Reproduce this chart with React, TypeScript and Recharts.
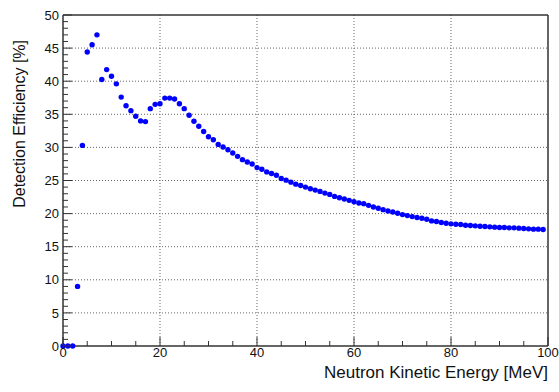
import { ScatterChart, Scatter, XAxis, YAxis, ReferenceLine } from 'recharts';

// neutron kinetic energy [MeV]
const ENERGY = [
  0, 1, 2, 3, 4, 5, 6, 7, 8, 9,
  10, 11, 12, 13, 14, 15, 16, 17, 18, 19,
  20, 21, 22, 23, 24, 25, 26, 27, 28, 29,
  30, 31, 32, 33, 34, 35, 36, 37, 38, 39,
  40, 41, 42, 43, 44, 45, 46, 47, 48, 49,
  50, 51, 52, 53, 54, 55, 56, 57, 58, 59,
  60, 61, 62, 63, 64, 65, 66, 67, 68, 69,
  70, 71, 72, 73, 74, 75, 76, 77, 78, 79,
  80, 81, 82, 83, 84, 85, 86, 87, 88, 89,
  90, 91, 92, 93, 94, 95, 96, 97, 98, 99,
];

// detection efficiency [%]
const EFFICIENCY = [
  0, 0, 0, 9.0, 30.3, 44.4, 45.5, 47.0, 40.25, 41.75,
  40.75, 39.6, 37.6, 36.3, 35.55, 34.7, 34.0, 33.9, 35.85, 36.5,
  36.6, 37.45, 37.45, 37.3, 36.6, 35.85, 34.85, 33.95, 33.2, 32.4,
  31.6, 31.15, 30.45, 30.05, 29.65, 29.15, 28.65, 28.15, 27.8, 27.5,
  26.95, 26.7, 26.3, 26.05, 25.8, 25.3, 25.05, 24.75, 24.45, 24.25,
  24.0, 23.75, 23.55, 23.35, 23.1, 22.9, 22.6, 22.4, 22.2, 22.0,
  21.8, 21.6, 21.5, 21.25, 21.0, 20.8, 20.6, 20.4, 20.25, 20.05,
  19.85, 19.7, 19.55, 19.4, 19.3, 19.15, 18.9, 18.8, 18.65, 18.55,
  18.45, 18.4, 18.35, 18.25, 18.2, 18.15, 18.1, 18.05, 18.0, 17.95,
  17.9, 17.9, 17.85, 17.85, 17.8, 17.75, 17.7, 17.65, 17.65, 17.6,
];

const X_TICKS = [0, 5, 10, 15, 20, 25, 30, 35, 40, 45, 50, 55, 60, 65, 70, 75, 80, 85, 90, 95, 100];
const X_MAJOR = [0, 20, 40, 60, 80, 100];
const Y_TICKS = [
  0, 1, 2, 3, 4, 5, 6, 7, 8, 9, 10, 11, 12, 13, 14, 15, 16, 17, 18, 19, 20, 21, 22, 23, 24, 25,
  26, 27, 28, 29, 30, 31, 32, 33, 34, 35, 36, 37, 38, 39, 40, 41, 42, 43, 44, 45, 46, 47, 48, 49, 50,
];
const Y_MAJOR = [0, 5, 10, 15, 20, 25, 30, 35, 40, 45, 50];

const data = ENERGY.map((x, i) => ({ x, y: EFFICIENCY[i] }));

const FONT = '"Liberation Sans", Arial, Helvetica, sans-serif';
const AXIS = '#333';
const LEFT = 63;
const BOTTOM = 346;

function YTick(props: any) {
  const { y, payload } = props;
  const major = Y_MAJOR.includes(payload.value);
  return (
    <g>
      <line x1={LEFT} x2={LEFT + (major ? 9 : 5)} y1={y} y2={y} stroke={AXIS} strokeWidth={1} />
      {major && (
        <text x={LEFT - 4} y={y} dy="0.36em" textAnchor="end" fontSize={13} fontFamily={FONT} fill="#111">
          {payload.value}
        </text>
      )}
    </g>
  );
}

function XTick(props: any) {
  const { x, payload } = props;
  const major = X_MAJOR.includes(payload.value);
  return (
    <g>
      <line x1={x} x2={x} y1={BOTTOM} y2={BOTTOM - (major ? 9 : 5)} stroke={AXIS} strokeWidth={1} />
      {major && (
        <text x={x} y={357} textAnchor="middle" fontSize={13} fontFamily={FONT} fill="#111">
          {payload.value}
        </text>
      )}
    </g>
  );
}

export default function App() {
  return (
    <div style={{ position: 'absolute', left: 0, top: 0, background: '#fff' }}>
      <ScatterChart width={559} height={392} margin={{ top: 15, right: 11, bottom: 0, left: 0 }}>
        <XAxis
          type="number"
          dataKey="x"
          domain={[0, 100]}
          ticks={X_TICKS}
          interval={0}
          height={46}
          axisLine={{ stroke: AXIS, strokeWidth: 1.5 }}
          tickLine={false}
          tick={<XTick />}
          label={{
            content: () => (
              <text x={548} y={378} textAnchor="end" fontSize={17} fontFamily={FONT} fill="#111">
                Neutron Kinetic Energy [MeV]
              </text>
            ),
          }}
        />
        <YAxis
          type="number"
          dataKey="y"
          domain={[0, 50]}
          ticks={Y_TICKS}
          interval={0}
          width={63}
          axisLine={{ stroke: AXIS, strokeWidth: 1.5 }}
          tickLine={false}
          tick={<YTick />}
          label={{
            content: () => (
              <text
                x={25}
                y={40}
                transform="rotate(-90 25 40)"
                textAnchor="end"
                fontSize={16}
                fontFamily={FONT}
                fill="#111"
              >
                Detection Efficiency [%]
              </text>
            ),
          }}
        />
        {Y_MAJOR.slice(1, -1).map(v => (
          <ReferenceLine key={`gy${v}`} y={v} stroke="#666" strokeDasharray="1 2" />
        ))}
        {X_MAJOR.slice(1, -1).map(v => (
          <ReferenceLine key={`gx${v}`} x={v} stroke="#666" strokeDasharray="1 2" />
        ))}
        <ReferenceLine y={50} stroke={AXIS} strokeWidth={1.5} />
        <ReferenceLine x={100} stroke={AXIS} strokeWidth={1.5} />
        <Scatter
          data={data}
          isAnimationActive={false}
          shape={(p: any) => <circle cx={p.cx} cy={p.cy} r={2.7} fill="#0000ff" />}
        />
      </ScatterChart>
    </div>
  );
}
